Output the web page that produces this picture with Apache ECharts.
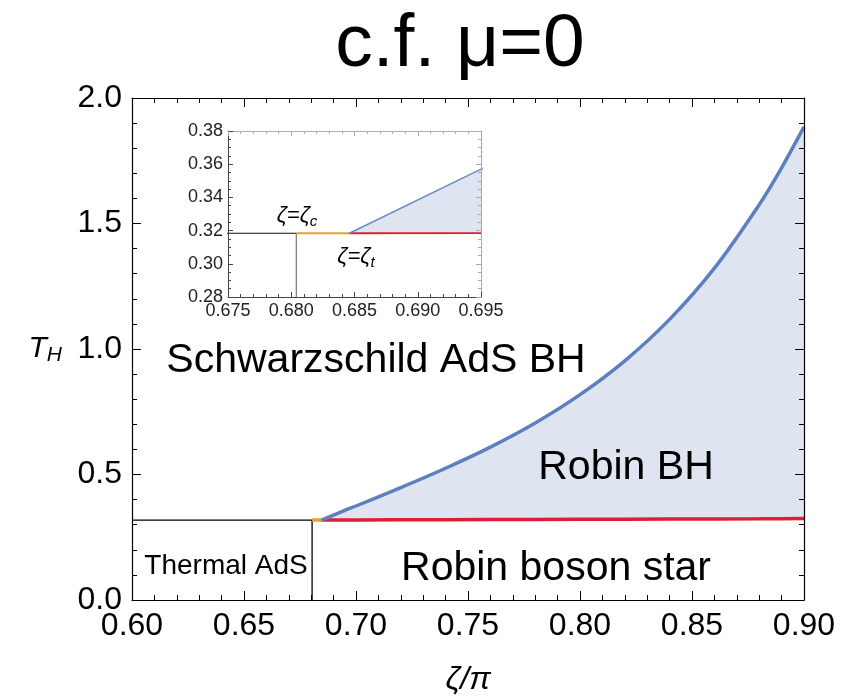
<!DOCTYPE html>
<html>
<head>
<meta charset="utf-8">
<script src="https://cdn.jsdelivr.net/npm/echarts@6/dist/echarts.min.js"></script>
<style>
  html, body { margin: 0; padding: 0; background: #fff; }
  #chart { width: 855px; height: 699px; }
</style>
</head>
<body>
<div id="chart"></div>
<script>
// phase boundaries
var tTransition = 0.3184;   // thermal AdS <-> BH line
var zetaC = 0.6804;         // ζ = ζc
var zetaT = 0.6846;         // ζ = ζt

// Robin BH region: upper edge (blue) and lower edge (red)
var zetaRobin = [0.6846, 0.695, 0.70, 0.72, 0.74, 0.76, 0.78, 0.80, 0.82, 0.84, 0.86, 0.88, 0.89, 0.90];
var tBlue     = [0.3184, 0.357, 0.3745, 0.448, 0.525, 0.609, 0.705, 0.818, 0.953, 1.118, 1.322, 1.575, 1.722, 1.885];
var tRed      = [0.3184, 0.3185, 0.319, 0.3195, 0.320, 0.3205, 0.321, 0.3215, 0.322, 0.3225, 0.323, 0.3235, 0.324, 0.3245];

// tick values
var mainXTicks = [0.60, 0.65, 0.70, 0.75, 0.80, 0.85, 0.90];
var mainYTicks = [0.0, 0.5, 1.0, 1.5, 2.0];
var insetXTicks = [0.675, 0.680, 0.685, 0.690, 0.695];
var insetYTicks = [0.28, 0.30, 0.32, 0.34, 0.36, 0.38];

var FONT = '"Liberation Sans", Arial, sans-serif';

function zip(xs, ys) {
  return xs.map(function (x, i) { return [x, ys[i]]; });
}
var redPts = zip(zetaRobin, tRed);
var bluePts = zip(zetaRobin, tBlue);
var thermalPts = [[mainXTicks[0], tTransition], [zetaC, tTransition]];
var vertPts = [[zetaC, mainYTicks[0]], [zetaC, tTransition]];
var orangePts = [[zetaC, tTransition], [zetaT, tTransition]];

function frameAxis(grid, pos, ticks, showLabel, opts) {
  return {
    type: 'value',
    gridIndex: grid,
    position: pos,
    min: ticks[0],
    max: ticks[ticks.length - 1],
    interval: ticks[1] - ticks[0],
    z: 10,
    splitLine: { show: false },
    axisLine: { show: true, onZero: false, lineStyle: { color: opts.lineColor, width: opts.lineWidth } },
    axisTick: { show: true, inside: true, length: opts.tick, lineStyle: { color: opts.lineColor, width: 1 } },
    minorTick: { show: true, splitNumber: opts.minor, length: opts.minorTick, lineStyle: { color: opts.lineColor, width: 1 } },
    minorSplitLine: { show: false },
    axisLabel: {
      show: showLabel,
      fontFamily: FONT,
      fontSize: opts.fontSize,
      color: opts.labelColor,
      margin: opts.margin,
      formatter: function (v) { return v.toFixed(opts.digits); }
    }
  };
}

var mainOpt = { lineColor: '#000', lineWidth: 1.2, tick: 9, minorTick: 5, fontSize: 32, labelColor: '#000', margin: 10 };
var insetOpt = { lineColor: '#444', lineWidth: 1, tick: 5, minorTick: 3, fontSize: 18, labelColor: '#222', margin: 5 };
var insetOptFaint = Object.assign({}, insetOpt, { lineColor: '#aaa' });

var xMain = frameAxis(0, 'bottom', mainXTicks, true, Object.assign({ minor: 5, digits: 2 }, mainOpt));
xMain.name = 'ζ/π';
xMain.nameLocation = 'middle';
xMain.nameGap = 64;
xMain.nameMoveOverlap = false;
xMain.nameTextStyle = { fontFamily: FONT, fontSize: 32, fontStyle: 'italic', color: '#000' };

var yMain = frameAxis(0, 'left', mainYTicks, true, Object.assign({ minor: 5, digits: 1 }, mainOpt));
yMain.name = '{t|T}{h|H}';
yMain.nameLocation = 'middle';
yMain.nameRotate = 0;
yMain.nameGap = 70;
yMain.nameMoveOverlap = false;
yMain.nameTextStyle = {
  rich: {
    t: { fontFamily: FONT, fontSize: 30, fontStyle: 'italic', color: '#000', lineHeight: 34 },
    h: { fontFamily: FONT, fontSize: 21, fontStyle: 'italic', color: '#000', lineHeight: 12, verticalAlign: 'bottom' }
  }
};

// filled region between the blue and red boundaries
function fillSeries(xi, yi) {
  return {
    type: 'custom',
    xAxisIndex: xi,
    yAxisIndex: yi,
    data: [[zetaT, tTransition]],
    clip: true,
    silent: true,
    z: 2,
    renderItem: function (params, api) {
      var pts = bluePts.map(function (p) { return api.coord(p); })
        .concat(redPts.slice().reverse().map(function (p) { return api.coord(p); }));
      var cs = params.coordSys;
      return {
        type: 'polygon',
        shape: { points: pts },
        style: { fill: '#dee4f0' },
        clipPath: { type: 'rect', shape: { x: cs.x, y: cs.y, width: cs.width, height: cs.height } }
      };
    }
  };
}

function zetaLabel(x, y, sub) {
  return {
    type: 'text', x: x, y: y, z: 20,
    style: {
      text: '{a|ζ=ζ}{b|' + sub + '}', align: 'center', verticalAlign: 'middle',
      rich: {
        a: { fontFamily: FONT, fontSize: 22, fontStyle: 'italic', fill: '#000', lineHeight: 26 },
        b: { fontFamily: FONT, fontSize: 15, fontStyle: 'italic', fill: '#000', lineHeight: 10, verticalAlign: 'bottom' }
      }
    }
  };
}

var option = {
  animation: false,
  backgroundColor: '#fff',
  grid: [
    { left: 132, top: 98, width: 672, height: 502, containLabel: false, outerBoundsMode: 'none' },
    { left: 228, top: 131, width: 253, height: 166, containLabel: false, outerBoundsMode: 'none' }
  ],
  xAxis: [
    xMain,
    frameAxis(0, 'top', mainXTicks, false, Object.assign({ minor: 5, digits: 2 }, mainOpt)),
    frameAxis(1, 'bottom', insetXTicks, true, Object.assign({ minor: 5, digits: 3 }, insetOpt)),
    frameAxis(1, 'top', insetXTicks, false, Object.assign({ minor: 5, digits: 3 }, insetOptFaint))
  ],
  yAxis: [
    yMain,
    frameAxis(0, 'right', mainYTicks, false, Object.assign({ minor: 5, digits: 1 }, mainOpt)),
    frameAxis(1, 'left', insetYTicks, true, Object.assign({ minor: 4, digits: 2 }, insetOpt)),
    frameAxis(1, 'right', insetYTicks, false, Object.assign({ minor: 4, digits: 2 }, insetOptFaint))
  ],
  series: [
    // main panel
    fillSeries(0, 0),
    { type: 'line', xAxisIndex: 0, yAxisIndex: 0, data: thermalPts, symbol: 'none',
      lineStyle: { color: '#000', width: 1.3 }, z: 3 },
    { type: 'line', xAxisIndex: 0, yAxisIndex: 0, data: vertPts, symbol: 'none',
      lineStyle: { color: '#000', width: 1.3 }, z: 3 },
    { type: 'line', xAxisIndex: 0, yAxisIndex: 0, data: orangePts, symbol: 'none',
      lineStyle: { color: '#e8a030', width: 3.5 }, z: 4 },
    { type: 'line', xAxisIndex: 0, yAxisIndex: 0, data: redPts, symbol: 'none',
      lineStyle: { color: '#dd1f35', width: 3.5 }, z: 4 },
    { type: 'line', xAxisIndex: 0, yAxisIndex: 0, data: bluePts, symbol: 'none',
      smooth: 0.25,
      lineStyle: { color: '#5b80bd', width: 3.5 }, z: 5 },

    // inset
    fillSeries(2, 2),
    { type: 'line', xAxisIndex: 2, yAxisIndex: 2, data: thermalPts, symbol: 'none',
      lineStyle: { color: '#111', width: 1 }, z: 3 },
    { type: 'line', xAxisIndex: 2, yAxisIndex: 2, data: vertPts, symbol: 'none',
      lineStyle: { color: '#777', width: 1.2 }, z: 3 },
    { type: 'line', xAxisIndex: 2, yAxisIndex: 2, data: orangePts, symbol: 'none',
      lineStyle: { color: '#e8a030', width: 2 }, z: 4 },
    { type: 'line', xAxisIndex: 2, yAxisIndex: 2, data: redPts, symbol: 'none',
      lineStyle: { color: '#dd1f35', width: 2 }, z: 4 },
    { type: 'line', xAxisIndex: 2, yAxisIndex: 2, data: bluePts, symbol: 'none',
      lineStyle: { color: '#6a8cc4', width: 1.5 }, z: 5 }
  ],
  graphic: [
    { type: 'text', x: 460, y: 45, z: 20,
      style: { text: 'c.f. μ=0', font: '75px ' + FONT, fill: '#000', align: 'center', verticalAlign: 'middle' } },
    { type: 'text', x: 376, y: 361, z: 20,
      style: { text: 'Schwarzschild AdS BH', font: '41px ' + FONT, fill: '#000', align: 'center', verticalAlign: 'middle' } },
    { type: 'text', x: 626, y: 468, z: 20,
      style: { text: 'Robin BH', font: '41px ' + FONT, fill: '#000', align: 'center', verticalAlign: 'middle' } },
    { type: 'text', x: 556, y: 569, z: 20,
      style: { text: 'Robin boson star', font: '41px ' + FONT, fill: '#000', align: 'center', verticalAlign: 'middle' } },
    { type: 'text', x: 226, y: 566, z: 20,
      style: { text: 'Thermal AdS', font: '28px ' + FONT, fill: '#000', align: 'center', verticalAlign: 'middle' } },
    zetaLabel(297, 216, 'c'),
    zetaLabel(356, 257, 't')
  ]
};

var chart = echarts.init(document.getElementById('chart'));
chart.setOption(option);
window.addEventListener('resize', function () { chart.resize(); });
</script>
</body>
</html>
